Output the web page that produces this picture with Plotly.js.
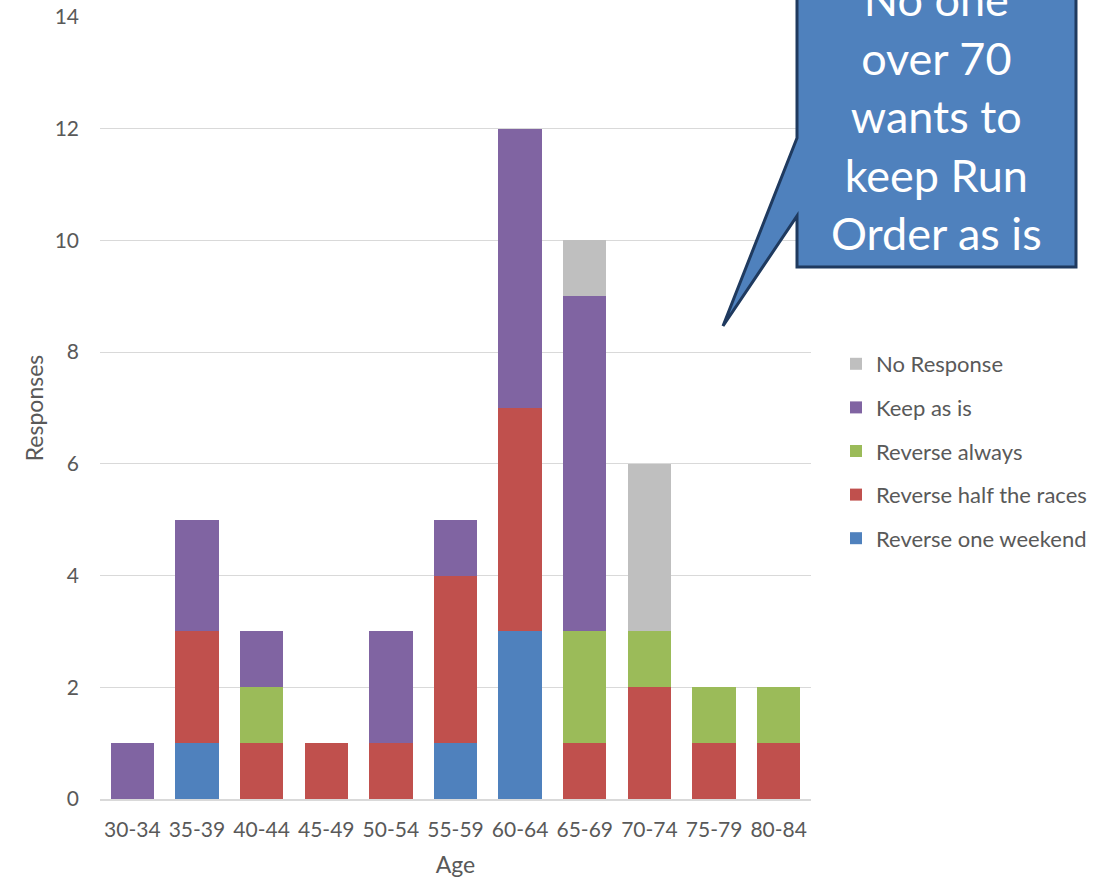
<!DOCTYPE html>
<html>
<head>
<meta charset="utf-8">
<script src="https://cdn.plot.ly/plotly-3.0.1.min.js"></script>
<style>html,body{margin:0;padding:0;background:#fff;}#chart{width:1112px;height:882px;}</style>
</head>
<body>
<div id="chart"></div>
<script>
const ageGroups = ["30-34","35-39","40-44","45-49","50-54","55-59","60-64","65-69","70-74","75-79","80-84"];
const reverseOneWeekend = [0,1,0,0,0,1,3,0,0,0,0];
const reverseHalf       = [0,2,1,1,1,3,4,1,2,1,1];
const reverseAlways     = [0,0,1,0,0,0,0,2,1,1,1];
const keepAsIs          = [1,2,1,0,2,1,5,6,0,0,0];
const noResponse        = [0,0,0,0,0,0,0,1,3,0,0];
const seriesNames = ["Reverse one weekend","Reverse half the races","Reverse always","Keep as is","No Response"];
const seriesColors = ["#4F81BD","#C0504D","#9BBB59","#8064A2","#BFBFBF"];
const seriesValues = [reverseOneWeekend, reverseHalf, reverseAlways, keepAsIs, noResponse];
const calloutText = "No one<br>over 70<br>wants to<br>keep Run<br>Order as is";

const FONT = "Lato, 'Open Sans', sans-serif";
const W = 1112, H = 882;
const M = {l:100, r:301, t:17, b:83};
const pw = W - M.l - M.r, ph = H - M.t - M.b;
const px = x => (x - M.l) / pw;
const py = y => (H - M.b - y) / ph;

const traces = seriesNames.map((n, i) => ({
  type: 'bar',
  name: n,
  x: ageGroups,
  y: seriesValues[i],
  legendgroup: 'g' + i,
  legendrank: 100 - i,
  marker: {color: seriesColors[i], line: {width: 0}},
  hoverinfo: 'x+y+name'
}));

const pathPts = [[797,-10],[1076,-10],[1076,267],[797,267],[797,216],[723,326],[797,138]];
const path = 'M ' + pathPts.map(p => px(p[0]).toFixed(5) + ',' + py(p[1]).toFixed(5)).join(' L ') + ' Z';

const layout = {
  width: W, height: H,
  margin: M,
  paper_bgcolor: '#fff', plot_bgcolor: '#fff',
  barmode: 'stack',
  bargap: 0.33,
  font: {family: FONT, color: '#595959', size: 21},
  showlegend: true,
  legend: {
    x: px(836), y: py(343), xanchor: 'left', yanchor: 'top',
    traceorder: 'grouped', tracegroupgap: 12,
    font: {family: FONT, size: 22, color: '#595959'},
    itemwidth: 30
  },
  xaxis: {
    type: 'category',
    showgrid: false,
    showline: true, linecolor: '#D9D9D9', linewidth: 1.5,
    ticks: '', ticklabelstandoff: 11,
    tickfont: {family: FONT, size: 21, color: '#595959'},
    title: {text: 'Age', font: {family: FONT, size: 23, color: '#595959'}, standoff: 17},
    fixedrange: true
  },
  yaxis: {
    range: [0, 14],
    dtick: 2,
    showgrid: true, gridcolor: '#D9D9D9', gridwidth: 1,
    zeroline: false, showline: false,
    ticks: '', ticklabelstandoff: 20,
    tickfont: {family: FONT, size: 21, color: '#595959'},
    title: {text: 'Responses', font: {family: FONT, size: 23, color: '#595959'}, standoff: 4},
    fixedrange: true
  },
  shapes: [{
    type: 'path', xref: 'paper', yref: 'paper', path: path,
    fillcolor: '#4F81BD', line: {color: '#1F3A5F', width: 3}, layer: 'above'
  }],
  annotations: [{
    xref: 'paper', yref: 'paper',
    x: px(936), y: py(262), xanchor: 'center', yanchor: 'bottom',
    text: calloutText, showarrow: false, align: 'center',
    font: {family: FONT, size: 45, color: '#ffffff'}
  }]
};

Plotly.newPlot('chart', traces, layout, {displayModeBar: false, staticPlot: true});
</script>
</body>
</html>
